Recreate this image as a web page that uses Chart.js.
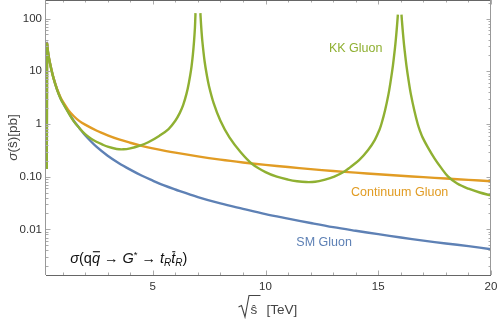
<!DOCTYPE html>
<html>
<head>
<meta charset="utf-8">
<script src="https://cdn.jsdelivr.net/npm/chart.js@4"></script>
<style>
  html,body{margin:0;padding:0;background:#fff}
</style>
</head>
<body>
<canvas id="chart" width="498" height="319"></canvas>
<script>
/* ============ DATA ============ */
const smX = [0.3, 0.31, 0.35, 0.4, 0.5, 0.6, 0.75, 0.9, 1.0, 1.25, 1.5, 1.75, 2.0, 2.5, 3.0, 3.5, 4.0, 4.5,
             5, 5.5, 6, 7, 8, 9, 10, 11, 12, 13, 14, 15, 16, 17, 18, 19, 20];
const smY = [0.14, 34, 24, 17.5, 11, 7.4, 4.6, 3.15, 2.6, 1.7, 1.14, 0.83, 0.61, 0.37, 0.25, 0.18, 0.136, 0.105,
             0.084, 0.068, 0.057, 0.041, 0.031, 0.0245, 0.0195, 0.016, 0.0132, 0.011, 0.0094, 0.0081, 0.0070, 0.0061, 0.0054, 0.0048, 0.0042];

const contX = [0.3, 0.31, 0.35, 0.4, 0.5, 0.6, 0.75, 0.9, 1.0, 1.25, 1.5, 1.75, 2.0, 2.5, 3.0, 3.5, 4.0, 4.5,
               5, 6, 7, 8, 9, 10, 11, 12, 13, 14, 15, 16, 17, 18, 19, 20];
const contY = [0.14, 33, 24, 17.5, 11, 7.4, 4.65, 3.25, 2.7, 1.85, 1.4, 1.13, 0.97, 0.75, 0.61, 0.51, 0.44, 0.385,
               0.345, 0.285, 0.242, 0.21, 0.186, 0.167, 0.152, 0.139, 0.128, 0.119, 0.111, 0.104, 0.098, 0.092, 0.087, 0.082];

// null = curve leaves the plot range at the resonance (7 TeV and 16 TeV)
const kkX = [0.3, 0.31, 0.35, 0.4, 0.5, 0.6, 0.75, 0.9, 1.0, 1.25, 1.5, 1.75, 2.0, 2.25, 2.5, 2.75,
             3.0, 3.4, 3.7, 4.0, 4.4, 4.8, 5.3, 5.7, 6.0, 6.2, 6.35, 6.5, 6.6, 6.7, 6.78, 6.83, 6.87, 6.885, 6.895,
             7.0,
             7.112, 7.15, 7.2, 7.3, 7.4, 7.5, 7.7, 8.0, 8.4, 8.9, 9.4, 10.0, 10.5, 11.0, 11.4, 11.8, 12.2, 12.6,
             13.05, 13.5, 13.75, 14.15, 14.55, 14.85, 15.05, 15.15, 15.3, 15.45, 15.55, 15.65, 15.73, 15.78, 15.82, 15.85, 15.87,
             15.95,
             16.03, 16.05, 16.08, 16.12, 16.17, 16.25, 16.35, 16.45, 16.6, 16.75, 16.85, 16.97, 17.2, 17.5, 17.8,
             18.1, 18.5, 19.0, 19.5, 20];
const kkY = [0.14, 32, 23.5, 17.2, 10.8, 7.3, 4.55, 3.1, 2.55, 1.66, 1.12, 0.83, 0.64, 0.53, 0.46, 0.41,
             0.37, 0.335, 0.33, 0.345, 0.385, 0.45, 0.6, 0.8, 1.15, 1.62, 2.3, 3.8, 6.0, 10.7, 21, 37, 67, 97, 127,
             null,
             127, 68, 36.7, 15.3, 8.3, 5.1, 2.49, 1.15, 0.555, 0.29, 0.175, 0.122, 0.1, 0.088, 0.082, 0.079, 0.08, 0.087,
             0.1, 0.125, 0.15, 0.205, 0.32, 0.5, 0.77, 1.03, 1.8, 3.6, 6.5, 12.8, 25, 40.5, 63, 91, 119,
             null,
             119, 91, 63, 40.5, 25, 12.8, 6.5, 3.6, 1.8, 1.0, 0.74, 0.55, 0.36, 0.22, 0.145,
             0.1, 0.074, 0.059, 0.05, 0.044];

const xTicks = [5, 10, 15, 20];
const yTicks = [0.01, 0.1, 1, 10, 100];
const yTickLabels = ["0.01", "0.10", "1", "10", "100"];

/* ============ STYLE ============ */
const BLUE = "#5e81b5", ORANGE = "#e19c24", GREEN = "#8fb032";
const FONT = "'Liberation Sans', Arial, sans-serif";

const pts = (xs, ys) => xs.map((x, i) => ({x, y: ys[i]}));
const line = (label, xs, ys, color) => ({
  label, data: pts(xs, ys),
  borderColor: color, borderWidth: 2.4,
  pointRadius: 0, fill: false,
  tension: 0.35, spanGaps: false
});

/* ============ FRAME, TICKS, TEXT ============ */
const decor = {
  id: "decor",
  afterDraw(chart){
    const {ctx, chartArea: a, scales: {x, y}} = chart;
    ctx.save();

    // ticks (inside, on all four sides)
    ctx.strokeStyle = "#aaa";
    ctx.lineWidth = 1;
    ctx.beginPath();
    for(let v = 1; v <= 20; v++){
      const px = Math.round(x.getPixelForValue(v)) + 0.5;
      const len = v % 5 === 0 ? 4.5 : 2.5;
      ctx.moveTo(px, a.bottom); ctx.lineTo(px, a.bottom - len);
      ctx.moveTo(px, a.top);    ctx.lineTo(px, a.top + len);
    }
    for(let e = -3; e <= 2; e++){
      for(let m = 1; m <= 9; m++){
        const v = m * Math.pow(10, e);
        if(v < y.min || v > y.max) continue;
        const py = Math.round(y.getPixelForValue(v)) + 0.5;
        const len = m === 1 ? 4.5 : 2.5;
        ctx.moveTo(a.left, py);  ctx.lineTo(a.left + len, py);
        ctx.moveTo(a.right, py); ctx.lineTo(a.right - len, py);
      }
    }
    ctx.stroke();

    // frame
    ctx.lineWidth = 1;
    ctx.strokeStyle = "#666";
    ctx.beginPath();
    ctx.moveTo(a.left, a.top + 0.5); ctx.lineTo(a.right, a.top + 0.5);
    ctx.moveTo(a.left, a.bottom + 0.5); ctx.lineTo(a.right, a.bottom + 0.5);
    ctx.stroke();
    ctx.strokeStyle = "#999";
    ctx.beginPath();
    ctx.moveTo(a.left - 0.5, a.top); ctx.lineTo(a.left - 0.5, a.bottom);
    ctx.moveTo(a.right - 0.5, a.top); ctx.lineTo(a.right - 0.5, a.bottom);
    ctx.stroke();

    // curve labels
    ctx.font = "12.5px " + FONT;
    ctx.textBaseline = "middle";
    ctx.textAlign = "center";
    ctx.fillStyle = GREEN;
    ctx.fillText("KK Gluon", x.getPixelForValue(14.0), y.getPixelForValue(27));
    ctx.fillStyle = ORANGE;
    ctx.fillText("Continuum Gluon", x.getPixelForValue(15.95), y.getPixelForValue(0.05));
    ctx.fillStyle = BLUE;
    ctx.fillText("SM Gluon", x.getPixelForValue(12.6), y.getPixelForValue(0.0057));

    // process formula  σ(q q̄ → G* → t_R t̄_R)
    ctx.fillStyle = "#111";
    ctx.textAlign = "left";
    ctx.textBaseline = "alphabetic";
    let cx = x.getPixelForValue(1.34);
    const by = y.getPixelForValue(0.0029) + 5;
    const put = (s, font, dy = 0, bar = false) => {
      ctx.font = font;
      const w = ctx.measureText(s).width;
      ctx.fillText(s, cx, by + dy);
      if(bar){
        ctx.fillRect(cx + 1, by + dy - 11.5, w - 1, 1.1);
      }
      cx += w;
    };
    const N = "14.5px " + FONT, I = "italic 14.5px " + FONT;
    const SUB = "italic 10px " + FONT;
    put("σ", I);
    put("(q", N);
    put("q", I, 0, true);
    put(" → ", N);
    put("G", I);
    put("*", "9.5px " + FONT, -5);
    put(" → ", N);
    put("t", I);
    put("R", SUB, 3);
    put("t", I, 0, true);
    put("R", SUB, 3);
    put(")", N);

    // y axis title
    ctx.save();
    ctx.translate(13, (a.top + a.bottom) / 2);
    ctx.rotate(-Math.PI / 2);
    ctx.fillStyle = "#444";
    ctx.textBaseline = "middle";
    const t1 = "σ", t2 = "(ŝ)[pb]";
    ctx.font = "italic 13.5px " + FONT;
    const w1 = ctx.measureText(t1).width;
    ctx.font = "13.5px " + FONT;
    const w2 = ctx.measureText(t2).width;
    ctx.font = "italic 13.5px " + FONT;
    ctx.fillText(t1, -(w1 + w2) / 2, 0);
    ctx.font = "13.5px " + FONT;
    ctx.fillText(t2, -(w1 + w2) / 2 + w1, 0);
    ctx.restore();

    // x axis title  √ŝ [TeV]
    ctx.fillStyle = "#444";
    ctx.strokeStyle = "#444";
    ctx.font = "13.5px " + FONT;
    const s0 = (a.left + a.right) / 2 - 30;
    ctx.lineWidth = 1.1;
    ctx.beginPath();
    ctx.moveTo(s0, 307); ctx.lineTo(s0 + 3, 305.5);
    ctx.lineTo(s0 + 6.5, 317); ctx.lineTo(s0 + 10.5, 295.5);
    ctx.lineTo(s0 + 22, 295.5);
    ctx.stroke();
    ctx.fillText("ŝ", s0 + 12, 314);
    ctx.fillText("[TeV]", s0 + 28, 314);

    ctx.restore();
  }
};

/* ============ CHART ============ */
new Chart(document.getElementById("chart"), {
  type: "line",
  data: {
    datasets: [
      line("KK Gluon", kkX, kkY, GREEN),
      line("Continuum Gluon", contX, contY, ORANGE),
      line("SM Gluon", smX, smY, BLUE)
    ]
  },
  options: {
    responsive: false,
    animation: false,
    events: [],
    layout: {padding: {left: 0, right: 7, top: 0, bottom: 0}},
    plugins: {legend: {display: false}, tooltip: {enabled: false}},
    scales: {
      x: {
        type: "linear", min: 0.265, max: 20,
        afterBuildTicks: s => { s.ticks = xTicks.map(v => ({value: v})); },
        afterFit: s => { s.height = 44; s.paddingLeft = 0; s.paddingRight = 0; },
        ticks: {
          callback: v => String(v),
          font: {family: FONT, size: 11.5}, color: "#333",
          padding: 5, maxRotation: 0, autoSkip: false
        },
        grid: {display: false, drawTicks: false},
        border: {display: false}
      },
      y: {
        type: "logarithmic", min: 0.00136, max: 225,
        afterBuildTicks: s => { s.ticks = yTicks.map(v => ({value: v})); },
        afterFit: s => { s.width = 46; s.paddingTop = 0; s.paddingBottom = 0; },
        ticks: {
          callback: v => yTickLabels[yTicks.indexOf(v)] ?? "",
          font: {family: FONT, size: 11.5}, color: "#333",
          padding: 4, autoSkip: false
        },
        grid: {display: false, drawTicks: false},
        border: {display: false}
      }
    }
  },
  plugins: [decor]
});
</script>
</body>
</html>
